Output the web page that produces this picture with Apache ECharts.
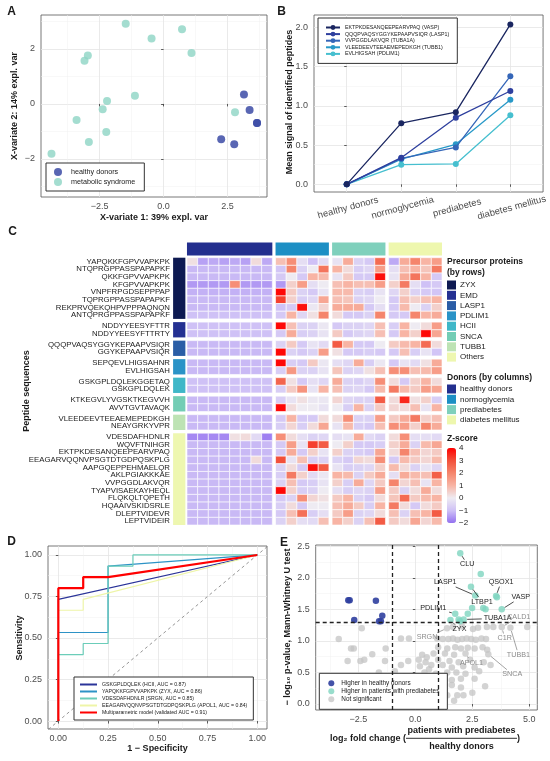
<!DOCTYPE html>
<html>
<head>
<meta charset="utf-8">
<script src="https://cdn.jsdelivr.net/npm/echarts@6/dist/echarts.min.js"></script>
<style>
html, body { margin: 0; padding: 0; background: #fff; }
#chart { width: 550px; height: 761px; }
</style>
</head>
<body>
<div id="chart"></div>
<script>
// ---------- panel A: PLS-DA scores ----------
const plsHealthy = [[3.14, 0.34], [3.36, -0.22], [3.65, -0.69], [3.65, -0.69], [2.25, -1.28], [2.76, -1.46]];
const plsMetabolic = [[-1.48, 2.91], [0.72, 2.71], [-0.47, 2.38], [-2.96, 1.76], [-3.09, 1.57], [1.09, 1.85],
    [-2.21, 0.11], [-1.12, 0.30], [-2.38, -0.19], [-3.40, -0.58], [2.79, -0.30], [-2.24, -1.02],
    [-2.92, -1.38], [-4.38, -1.81]];

// ---------- panel B: mean signal by stage ----------
const stages = ['healthy donors', 'normoglycemia', 'prediabetes', 'diabetes mellitus'];
const trendPeptides = ['EKTPKDESANQEEPEARVPAQ (VASP)', 'QQQPVAQSYGGYKEPAAPVSIQR (LASP1)', 'VVPGGDLAKVQR (TUBA1A)',
    'VLEEDEEVTEEAEMEPEDKGH (TUBB1)', 'EVLHIGSAH (PDLIM1)'];
const trendSignal = [
    [0, 0.78, 0.92, 2.04],
    [0, 0.34, 0.85, 1.19],
    [0, 0.33, 0.47, 1.38],
    [0, 0.32, 0.51, 1.08],
    [0, 0.25, 0.26, 0.88]
];

// ---------- panel C: heatmap ----------
const rowLabels = ['YAPQKKFGPVVAPKPK', 'NTQPRGPPASSPAPAPKF', 'QKKFGPVVAPKPK', 'KFGPVVAPKPK', 'VNPFRPGDSEPPPAP',
    'TQPRGPPASSPAPAPKF', 'REKPRVQEKQHPVPPPAQNQN', 'ANTQPRGPPASSPAPAPKF',
    'NDDYYEESYFTTR', 'NDDYYEESYFTTRTY',
    'QQQPVAQSYGGYKEPAAPVSIQR', 'GGYKEPAAPVSIQR',
    'SEPQEVLHIGSAHNR', 'EVLHIGSAH',
    'GSKGPLDQLEKGGETAQ', 'GSKGPLDQLEK',
    'KTKEGVLYVGSKTKEGVVH', 'AVVTGVTAVAQK',
    'VLEEDEEVTEEAEMEPEDKGH', 'NEAYGRKYVPR',
    'VDESDAFHDNLR', 'WQVFTNIHGR', 'EKTPKDESANQEEPEARVPAQ', 'EEAGARVQQNVPSGTDTGDPQSKPLG', 'AAPGQEPPEHMAELQR',
    'AKLPGIAKKKAE', 'VVPGGDLAKVQR', 'TYAPVISAEKAYHEQL', 'FLQKQLTQPETH', 'HQAAIVSKIDSRLE', 'DLEPTVIDEVR', 'LEPTVIDEIR'];
const proteinNames = ['ZYX', 'EMD', 'LASP1', 'PDLIM1', 'HCII', 'SNCA', 'TUBB1', 'Others'];
const proteinRowCounts = [8, 2, 2, 2, 2, 2, 2, 12];
const donorGroups = ['healthy donors', 'normoglycemia', 'prediabetes', 'diabetes mellitus'];
const donorColCounts = [8, 5, 5, 5];
const zScores = [
    [0.2, -1.4, -1.3, -1.4, -1.3, -1.4, 0.3, -1.3, 0.8, 1.8, -0.3, -1.0, -0.4, -0.2, 1.2, -0.6, -0.8, 2.5, -1.3, 1.2, 2.0, 1.0, 1.5],
    [-1.1, -1.1, -1.1, -1.1, -1.1, -1.1, -1.1, -1.1, -0.9, 2.0, -0.6, 0.0, 2.3, 1.0, 0.3, -0.7, -0.5, 1.5, -0.3, 0.8, 1.0, 0.7, 2.2],
    [-1.1, -1.1, -1.1, -1.1, -1.1, -1.1, -1.1, -1.1, -0.8, 0.0, -0.8, 1.0, 0.9, -0.2, 0.6, -0.8, -0.8, 3.8, -0.2, 1.2, 2.3, 1.0, -0.8],
    [-1.5, -1.5, -1.5, -1.5, 1.8, -1.5, -1.5, -1.5, -1.5, 0.5, 1.5, -0.3, 0.0, 0.8, 1.0, 0.8, 0.8, 1.5, 0.5, 2.2, -0.3, -1.0, -0.8],
    [-1.2, -1.2, -1.2, -1.2, -1.2, -1.2, -1.2, -1.2, 3.9, 0.6, -0.6, -0.8, -0.2, 0.9, 0.9, -0.6, -0.7, -0.2, -0.5, 0.5, -0.6, -0.8, -0.9],
    [-1.1, -1.1, -1.1, -1.1, -1.1, -1.1, -1.1, -1.1, 3.2, 0.5, -0.7, -0.5, 1.3, 0.8, 0.7, -0.6, -0.5, 0.0, -0.8, 0.8, 0.5, 0.8, 1.0],
    [-1.1, -1.1, -1.1, -1.1, -1.1, -1.1, -1.1, -1.1, -1.0, -0.8, 3.8, -0.1, 0.4, 1.2, 1.2, 1.2, -0.8, -0.3, -0.8, 0.9, 0.0, -0.6, 0.5],
    [-1.0, -1.0, -1.0, -1.0, -1.0, -1.0, -1.0, -1.0, -0.8, 1.0, -0.5, 0.2, 2.0, 0.3, -0.8, -0.8, -0.6, 2.0, -0.8, -0.8, 2.0, 1.0, 1.2],
    [-1.0, -1.0, -1.0, -1.0, -1.0, -1.0, -1.0, -1.0, 3.9, 0.8, -0.6, -0.6, -0.1, -0.8, -0.6, -0.6, -0.5, 0.8, -0.7, 1.0, 0.0, 0.3, 1.5],
    [-1.0, -1.0, -1.0, -1.0, -1.0, -1.0, -1.0, -1.0, -0.8, 1.2, -0.7, -0.6, -0.2, 0.6, -0.8, -0.6, -0.5, 0.8, -0.8, 1.0, 0.5, 3.9, 1.3],
    [-1.1, -1.1, -1.1, -1.1, -1.1, -1.1, -1.1, -1.1, -0.6, 0.6, -0.8, -0.2, -0.4, 2.8, 1.0, -0.8, -0.8, 0.0, 0.6, 0.9, 1.0, 2.5, 0.3],
    [-1.1, -1.1, -1.1, -1.1, -1.1, -1.1, -1.1, -1.1, 3.9, -0.6, -0.8, -0.6, 1.5, 0.2, -0.8, -0.8, -0.7, -0.8, -0.8, 0.8, -0.7, -0.2, -0.9],
    [-1.1, -1.1, -1.1, -1.1, -1.1, -1.1, -1.1, -1.1, 3.9, -0.7, -0.8, 0.6, -0.1, -0.3, -0.5, 1.2, -0.7, -0.1, -0.8, -0.2, -0.4, 0.2, 1.2],
    [-1.1, -1.1, -1.1, -1.1, -1.1, -1.1, -1.1, -1.1, -0.7, 1.6, -0.6, -0.6, -0.2, 0.7, -0.6, -0.5, 0.2, 0.8, 1.8, 1.8, 0.8, 0.9, 1.5],
    [-1.0, -1.0, -1.0, -1.0, -1.0, -1.0, -1.0, -1.0, 2.6, 0.2, -0.8, -0.3, -0.5, 1.2, -0.6, -0.7, -0.5, 1.8, 0.3, -0.8, 0.5, 1.0, 0.3],
    [-1.0, -1.0, -1.0, -1.0, -1.0, -1.0, -1.0, -1.0, -0.7, 0.6, 1.7, -0.2, 1.0, 0.8, -0.6, -0.5, -0.8, 0.9, 2.2, 0.9, 0.6, 1.5, 1.3],
    [-1.1, -1.1, -1.1, -1.1, -1.1, -1.1, -1.1, -1.1, -0.7, -0.2, 0.2, -0.1, -0.1, 0.4, -0.5, -0.6, -0.6, 2.8, 0.3, 3.5, 0.2, 0.5, -0.7],
    [-1.1, -1.1, -1.1, -1.1, -1.1, -1.1, -1.1, -1.1, 3.9, 0.3, 0.0, 0.0, -0.2, 0.0, -0.7, 1.0, -0.6, 0.6, 0.4, 0.3, 0.8, -0.2, 1.0],
    [-1.1, -1.1, -1.1, -1.1, -1.1, -1.1, -1.1, -1.1, -0.8, 1.0, -0.8, -0.8, 0.3, 0.3, 1.8, -0.6, -0.6, 1.5, 0.6, 1.2, 2.2, 0.5, 0.8],
    [-1.1, -1.1, -1.1, -1.1, -1.1, -1.1, -1.1, -1.1, -0.7, 0.4, -0.7, 0.3, 1.3, -0.2, 0.9, -0.7, -0.8, 0.8, 1.8, 1.5, 0.5, 2.0, 1.2],
    [-1.7, -1.7, -1.7, -1.7, 0.2, 0.3, -0.4, -1.8, 1.8, 0.3, -0.3, -0.6, -0.5, -0.3, -0.2, 1.2, -0.4, -0.6, 0.3, 1.8, -0.3, -0.3, -0.4],
    [-1.1, -1.1, -1.1, -1.1, -1.1, -1.1, -1.1, -1.1, -0.8, 1.5, -0.2, 3.2, 2.8, 0.0, 0.5, -0.8, -0.8, -0.7, 0.5, 1.2, -0.6, 0.9, 1.3],
    [-1.1, -1.1, -1.1, -1.1, -1.1, -1.1, -1.1, -1.1, -0.8, 1.2, -0.8, 0.5, -0.2, 0.5, -0.6, -0.7, -0.8, 1.3, 0.3, 2.0, 0.8, 0.4, 0.6],
    [-1.1, -1.1, -1.1, -1.1, -1.1, -1.1, 0.3, -1.1, 3.0, -0.2, 0.8, -0.7, -0.6, -0.6, -0.8, 0.4, 0.3, 1.8, -0.8, 0.9, 0.6, 0.4, 0.9],
    [-1.1, -1.1, -1.1, -1.1, -1.1, -1.1, -1.1, -1.1, -0.6, 0.3, -0.8, 3.8, 2.8, -0.2, -0.7, -0.6, -0.5, 0.5, 0.9, 0.3, -0.6, -0.2, -0.5],
    [-1.1, -1.1, -1.1, -1.1, -1.1, -1.1, -1.1, -1.1, -0.7, 2.2, 0.5, -0.4, -0.1, 1.0, 0.9, -0.6, 0.6, 1.2, -0.3, 1.2, 0.9, 0.8, 2.7],
    [-1.1, -1.1, -1.1, -1.1, -1.1, -1.1, -1.1, -1.1, -0.6, 0.8, -0.8, -0.7, -0.2, 0.5, -0.7, 1.2, -0.5, 0.6, 2.0, 0.4, 0.8, -0.2, 1.0],
    [-1.1, -1.1, -1.1, -1.1, -1.1, -1.1, -1.1, -1.1, 3.9, 0.5, -0.7, -0.6, 0.0, -0.3, -0.7, -0.5, -0.6, 1.5, 0.6, -0.6, 0.3, 1.2, 0.3],
    [-1.1, -1.1, -1.1, -1.1, -1.1, -1.1, -1.1, -1.1, -0.8, -0.6, 1.8, 0.4, 0.2, 0.6, 1.0, -0.6, -0.8, 0.3, 0.7, 2.5, 0.6, 0.9, 1.0],
    [-1.1, -1.1, -1.1, -1.1, -1.1, -1.1, -1.1, -1.1, -0.7, 0.3, -0.8, 0.0, 0.0, 0.8, 1.2, 0.6, -0.7, 1.0, 2.2, 0.3, -0.8, 0.3, 0.6],
    [-1.1, -1.1, -1.1, -1.1, -1.1, -1.1, -1.1, -1.1, -0.8, 0.8, 2.4, -0.7, -0.3, 0.6, 1.5, -0.6, -0.5, 0.3, 0.8, -0.6, 0.8, 1.0, 2.8],
    [-1.1, -1.1, -1.1, -1.1, -1.1, -1.1, -1.1, -1.1, -0.6, 0.5, -0.3, -0.4, 0.8, 1.0, 0.5, -0.6, 0.8, 2.8, 0.6, 0.3, 1.3, 0.4, 0.9]
];
const zTicks = [-2, -1, 0, 1, 2, 3, 4];

// ---------- panel D: ROC curves ----------
const rocNames = ['GSKGPLDQLEK (HCII, AUC = 0.87)', 'YAPQKKFGPVVAPKPK (ZYX, AUC = 0.86)', 'VDESDAFHDNLR (SRGN, AUC = 0.85)',
    'EEAGARVQQNVPSGTDTGDPQSKPLG (APOL1, AUC = 0.84)', 'Multiparametric model (validated AUC = 0.91)'];
const rocCurves = [
    [[0, 0], [0, 0.733], [1, 1]],
    [[0, 0], [0, 0.533], [0.25, 0.533], [0.25, 0.933], [1, 1]],
    [[0, 0], [0, 0.4], [0.125, 0.4], [0.125, 0.467], [0.25, 0.467], [0.25, 0.933], [0.375, 0.933], [0.375, 1], [1, 1]],
    [[0, 0], [0, 0.667], [0.125, 0.667], [0.125, 0.733], [1, 1]],
    [[0, 0], [0, 0.8], [0.125, 0.8], [0.125, 0.867], [0.25, 0.867], [1, 1]]
];
const rocChance = [[-0.05, -0.05], [1.05, 1.05]];

// ---------- panel E: volcano ----------
const volcanoHealthy = [[-2.94, 1.645], [-2.88, 1.645], [-1.73, 1.635], [-2.68, 1.33], [-1.45, 1.40], [-1.51, 1.31], [-1.59, 1.31]];
const volcanoPrediab = [[1.97, 2.39], [2.87, 2.06], [2.44, 1.86], [2.63, 1.72], [3.54, 1.71], [3.58, 1.69], [3.79, 1.50],
    [2.49, 1.52], [2.98, 1.52], [3.08, 1.50], [2.30, 1.43], [1.75, 1.43], [1.54, 1.33], [1.90, 1.34], [2.12, 1.34], [1.96, 1.31]];
const volcanoNs = [[-3.36, 1.03], [-2.35, 1.20], [-2.82, 0.88], [-2.70, 0.88], [-1.89, 0.79], [-2.97, 0.68], [-2.41, 0.68],
    [-2.24, 0.70], [-1.33, 0.68], [-1.30, 0.88], [-0.63, 1.04], [-0.28, 1.04], [-0.63, 0.62], [-0.31, 0.68], [-1.6, 0.5],
    [-0.9, 0.52], [-1.15, 0.42], [-0.5, 0.44], [0.15, 0.70], [0.3, 0.78], [0.2, 0.6], [0.45, 0.66], [0.5, 0.74], [0.6, 0.55],
    [0.7, 0.62], [0.8, 0.80], [0.9, 0.48], [1.0, 0.70], [0.96, 1.04], [1.2, 1.03], [1.39, 1.20], [1.45, 1.03], [1.65, 1.04],
    [1.85, 1.02], [2.05, 1.03], [2.25, 1.04], [2.45, 1.03], [2.65, 1.02], [2.9, 1.04], [3.1, 1.03], [1.0, 0.90], [1.4, 0.88],
    [1.75, 0.90], [2.0, 0.88], [2.3, 0.89], [2.6, 0.88], [2.95, 0.90], [3.15, 0.86], [1.3, 0.80], [1.7, 0.78], [2.2, 0.80],
    [3.2, 0.79], [1.2, 0.62], [1.5, 0.68], [1.6, 0.58], [1.9, 0.66], [2.1, 0.60], [2.4, 0.70], [2.6, 0.58], [3.0, 0.66],
    [3.3, 0.62], [0.4, 0.50], [1.4, 0.50], [1.8, 0.50], [2.2, 0.48], [2.8, 0.52], [0.3, 0.40], [0.7, 0.40], [1.1, 0.42],
    [1.6, 0.38], [2.0, 0.40], [2.6, 0.40], [0.5, 0.30], [1.0, 0.28], [1.6, 0.30], [2.0, 0.26], [3.06, 0.28], [1.4, 0.14],
    [1.84, 0.14], [2.11, 0.14], [2.5, 0.18], [1.7, 0.05], [2.53, 1.19], [2.75, 1.21], [3.14, 1.22], [3.42, 1.22], [3.79, 1.22],
    [4.17, 1.21], [4.91, 1.22], [1.65, 1.22], [2.05, 1.23]];
const geneLabels = [
    {gene: 'CLU', at: [1.97, 2.39], sig: true},
    {gene: 'LASP1', at: [2.63, 1.72], sig: true},
    {gene: 'QSOX1', at: [3.54, 1.71], sig: true},
    {gene: 'VASP', at: [3.79, 1.50], sig: true},
    {gene: 'LTBP1', at: [2.44, 1.86], sig: true},
    {gene: 'PDLIM1', at: [1.75, 1.43], sig: true},
    {gene: 'TUBA1A', at: [2.12, 1.34], sig: true},
    {gene: 'ZYX', at: [1.54, 1.33], sig: true},
    {gene: 'CALD1', at: [3.79, 1.22], sig: false},
    {gene: 'SRGN', at: [1.39, 1.20], sig: false},
    {gene: 'C1R', at: [3.79, 1.22], sig: false},
    {gene: 'TUBB1', at: [4.17, 1.21], sig: false},
    {gene: 'APOL1', at: [2.2, 0.80], sig: false},
    {gene: 'SNCA', at: [3.2, 0.79], sig: false}
];

// ---------- styling ----------
const FONT = '"Liberation Sans", Arial, sans-serif';
const INK = '#1a1a1a';
const proteinColors = ['#0E1A52', '#243092', '#2A5DA6', '#2A93C7', '#3FB7C8', '#73CDB5', '#BDE3B4', '#EEF7B0'];
const donorColors = ['#232F8E', '#1D8FC4', '#7FD0BC', '#EEF7AE'];
const trendColors = ['#1A2660', '#2E3F9E', '#3566B8', '#2899C8', '#46BFCF'];
const rocColors = ['#2B3499', '#2D93C6', '#6BCDB9', '#EEF5A8', '#FF0000'];
const labelNudge = {
    CLU: [7, 11], LASP1: [-30, -13], QSOX1: [5, -14], VASP: [19, -12], LTBP1: [11, 15], PDLIM1: [-22, -6],
    TUBA1A: [34, -1], ZYX: [9, 9], CALD1: [17, -10], SRGN: [-20, 9], C1R: [3, 11], TUBB1: [8, 27],
    APOL1: [6, 9], SNCA: [24, 20]
};

const minus = v => String(v).replace('-', '\u2212');

// heatmap layout: gaps between groups in cell units
const COL_GAP = 0.3, ROW_GAP = 0.42;
const colPos = [], colStarts = [];
let acc = 0;
donorColCounts.forEach((n, g) => {
    colStarts.push(acc + g * COL_GAP);
    for (let k = 0; k < n; k++) colPos.push(acc + g * COL_GAP + k);
    acc += n;
});
const rowPos = [], rowStarts = [];
acc = 0;
proteinRowCounts.forEach((n, g) => {
    rowStarts.push(acc + g * ROW_GAP);
    for (let k = 0; k < n; k++) rowPos.push(acc + g * ROW_GAP + k);
    acc += n;
});
const heatCells = [];
zScores.forEach((row, i) => row.forEach((z, j) => heatCells.push([colPos[j], rowPos[i], z])));

// ---------- axes ----------
const xAxes = [], yAxes = [];
const tickFont = {fontFamily: FONT, fontSize: 9, color: '#4D4D4D'};
function valueAxes(list, grid, dim, min, max, majors, minors, fmt, extra) {
    const main = Object.assign({
        type: 'value', gridIndex: grid, min: min, max: max,
        axisLine: {show: false},
        axisTick: {show: true, length: 2.5, lineStyle: {color: '#333', width: 0.8}, customValues: majors},
        axisLabel: Object.assign({customValues: majors, formatter: fmt, margin: dim === 'x' ? 5 : 6}, tickFont),
        splitLine: {show: true, lineStyle: {color: '#E4E4E4', width: 0.8}}
    }, extra || {});
    list.push(main);
    const idx = list.length - 1;
    if (minors) {
        list.push({
            type: 'value', gridIndex: grid, min: min, max: max, position: dim === 'x' ? 'top' : 'right',
            axisLine: {show: false}, axisTick: {show: false, customValues: minors},
            axisLabel: {show: false, customValues: minors},
            splitLine: {show: true, lineStyle: {color: '#F1F1F1', width: 0.5}}
        });
    }
    return idx;
}
const f1 = v => minus(v.toFixed(1));
const f2 = v => minus(v.toFixed(2));

const gridBox = {show: true, borderColor: '#555', borderWidth: 0.8, backgroundColor: '#fff'};
const grids = [
    Object.assign({left: 41, top: 15, width: 226, height: 182}, gridBox),      // A
    Object.assign({left: 314, top: 15, width: 230, height: 177}, gridBox),     // B
    {left: 173.1, top: 242.4, width: 268.9, height: 282.6},                   // C heatmap
    {left: 447, top: 448, width: 9, height: 75},                              // C colour bar
    Object.assign({left: 48, top: 546, width: 219, height: 183}, gridBox),     // D
    Object.assign({left: 315.7, top: 545, width: 221.6, height: 165}, gridBox) // E
];

const axA = {
    x: valueAxes(xAxes, 0, 'x', -4.79, 4.04, [-2.5, 0, 2.5], [-3.75, -1.25, 1.25, 3.75], f1),
    y: valueAxes(yAxes, 0, 'y', -3.38, 3.23, [-2, 0, 2], [-3, -1, 1, 3], v => minus(v))
};
const axB = {
    x: valueAxes(xAxes, 1, 'x', -0.6, 3.6, [0, 1, 2, 3], null, v => stages[v], {
        axisLabel: {customValues: [0, 1, 2, 3], formatter: v => stages[v], rotate: 15, align: 'center',
            verticalAlign: 'top', margin: 11, fontFamily: FONT, fontSize: 9.5, color: '#4D4D4D'}
    }),
    y: valueAxes(yAxes, 1, 'y', -0.098, 2.16, [0, 0.5, 1, 1.5, 2], [0.25, 0.75, 1.25, 1.75], f1)
};
xAxes.push({type: 'value', gridIndex: 2, min: -1.3, max: 23.9, show: false});
const axCx = xAxes.length - 1;
yAxes.push({type: 'value', gridIndex: 2, min: -2.0, max: 34.94, inverse: true, show: false});
const axCy = yAxes.length - 1;
xAxes.push({type: 'value', gridIndex: 3, min: 0, max: 1, show: false});
yAxes.push({
    type: 'value', gridIndex: 3, min: -2, max: 4, position: 'right',
    axisLine: {show: false}, axisTick: {show: false, customValues: zTicks}, splitLine: {show: false},
    axisLabel: {customValues: zTicks, formatter: v => minus(v), margin: 3, fontFamily: FONT, fontSize: 8, color: INK}
});
const axD = {
    x: valueAxes(xAxes, 4, 'x', -0.052, 1.049, [0, 0.25, 0.5, 0.75, 1], [0.125, 0.375, 0.625, 0.875], f2),
    y: valueAxes(yAxes, 4, 'y', -0.048, 1.054, [0, 0.25, 0.5, 0.75, 1], [0.125, 0.375, 0.625, 0.875], f2)
};
const axE = {
    x: valueAxes(xAxes, 5, 'x', -4.37, 5.35, [-2.5, 0, 2.5, 5], [-3.75, -1.25, 1.25, 3.75], f1),
    y: valueAxes(yAxes, 5, 'y', -0.095, 2.52, [0, 0.5, 1, 1.5, 2, 2.5], [0.25, 0.75, 1.25, 1.75, 2.25], f1)
};

// ---------- series ----------
const series = [];
// A
series.push({name: 'healthy donors', type: 'scatter', xAxisIndex: axA.x, yAxisIndex: axA.y, data: plsHealthy,
    symbolSize: 8, itemStyle: {color: '#3C4BA6', opacity: 0.85}});
series.push({name: 'metabolic syndrome', type: 'scatter', xAxisIndex: axA.x, yAxisIndex: axA.y, data: plsMetabolic,
    symbolSize: 8, itemStyle: {color: '#8DD5C4'}});
// B
trendPeptides.forEach((name, i) => {
    series.push({name: name, type: 'line', xAxisIndex: axB.x, yAxisIndex: axB.y,
        data: trendSignal[i].map((v, j) => [j, v]), symbol: 'circle', symbolSize: 6,
        lineStyle: {width: 1.3, color: trendColors[i]}, itemStyle: {color: trendColors[i]}, z: 10 - i});
});
// C heatmap cells
const heatSeriesIndex = series.length;
series.push({
    type: 'custom', xAxisIndex: axCx, yAxisIndex: axCy, data: heatCells, clip: false,
    encode: {x: 0, y: 1},
    renderItem: function (params, api) {
        const p0 = api.coord([api.value(0), api.value(1)]);
        const p1 = api.coord([api.value(0) + 1, api.value(1) + 1]);
        return {type: 'rect', shape: {x: p0[0], y: p0[1], width: p1[0] - p0[0], height: p1[1] - p0[1]},
            style: {fill: api.visual('color'), stroke: '#fff', lineWidth: 0.6}};
    }
});
// C row annotation strip
series.push({
    type: 'custom', xAxisIndex: axCx, yAxisIndex: axCy, clip: false,
    data: proteinRowCounts.map((n, g) => [-1.3, rowStarts[g], rowStarts[g] + n, g]),
    encode: {x: 0, y: 1},
    renderItem: function (params, api) {
        const p0 = api.coord([-1.3, api.value(1)]);
        const p1 = api.coord([-0.15, api.value(2)]);
        return {type: 'rect', shape: {x: p0[0], y: p0[1], width: p1[0] - p0[0], height: p1[1] - p0[1]},
            style: {fill: proteinColors[api.value(3)]}};
    }
});
// C column annotation strip
series.push({
    type: 'custom', xAxisIndex: axCx, yAxisIndex: axCy, clip: false,
    data: donorColCounts.map((n, g) => [colStarts[g], -2.0, colStarts[g] + n, g]),
    encode: {x: 0, y: 1},
    renderItem: function (params, api) {
        const p0 = api.coord([api.value(0), -2.0]);
        const p1 = api.coord([api.value(2), -0.3]);
        return {type: 'rect', shape: {x: p0[0], y: p0[1], width: p1[0] - p0[0], height: p1[1] - p0[1]},
            style: {fill: donorColors[api.value(3)]}};
    }
});
// C row labels
series.push({
    type: 'custom', xAxisIndex: axCx, yAxisIndex: axCy, clip: false,
    data: rowPos.map(p => [-1.3, p]),
    encode: {x: 0, y: 1},
    renderItem: function (params, api) {
        const p = api.coord([-1.6, api.value(1) + 0.5]);
        return {type: 'text', x: p[0], y: p[1], style: {text: rowLabels[params.dataIndex], fontFamily: FONT,
            fontSize: 7.8, fill: INK, align: 'right', verticalAlign: 'middle'}};
    }
});
// D
series.push({type: 'line', xAxisIndex: axD.x, yAxisIndex: axD.y, data: rocChance, symbol: 'none', silent: true,
    lineStyle: {color: '#8A8A8A', width: 0.9, type: [3, 3]}, z: 1});
rocNames.forEach((name, i) => {
    const last = i === rocNames.length - 1;
    series.push({name: name, type: 'line', xAxisIndex: axD.x, yAxisIndex: axD.y, data: rocCurves[i],
        symbol: 'none', lineStyle: {color: rocColors[i], width: last ? 2.2 : 1.2},
        itemStyle: {color: rocColors[i]}, z: last ? 10 : 3 + i});
});
// E
series.push({name: 'Not significant', type: 'scatter', xAxisIndex: axE.x, yAxisIndex: axE.y, data: volcanoNs,
    symbolSize: 6.5, itemStyle: {color: '#C4C4C4', opacity: 0.75},
    markLine: {silent: true, symbol: 'none', label: {show: false},
        lineStyle: {color: '#222', width: 1.3, type: [4, 3]},
        data: [{xAxis: -1}, {xAxis: 1}, {yAxis: 1.301}]}});
series.push({name: 'Higher in healthy donors', type: 'scatter', xAxisIndex: axE.x, yAxisIndex: axE.y,
    data: volcanoHealthy, symbolSize: 6.5, itemStyle: {color: '#2F3F9E', opacity: 0.9}});
series.push({name: 'Higher in patients with prediabetes', type: 'scatter', xAxisIndex: axE.x, yAxisIndex: axE.y,
    data: volcanoPrediab, symbolSize: 6.5, itemStyle: {color: '#7ED4BF'}});
series.push({
    type: 'custom', xAxisIndex: axE.x, yAxisIndex: axE.y, clip: false, z: 20,
    data: geneLabels.map(d => d.at), encode: {x: 0, y: 1},
    renderItem: function (params, api) {
        const d = geneLabels[params.dataIndex];
        const p = api.coord([api.value(0), api.value(1)]);
        const nd = labelNudge[d.gene];
        const t = [p[0] + nd[0], p[1] + nd[1]];
        const col = d.sig ? '#222' : '#8C8C8C';
        const children = [{type: 'text', x: t[0], y: t[1], style: {text: d.gene, fontFamily: FONT, fontSize: 7.2,
            fill: col, align: 'center', verticalAlign: 'middle'}}];
        const dx = p[0] - t[0], dy = p[1] - t[1];
        const hw = d.gene.length * 2.4 + 1.5, hh = 4.5;
        const s = Math.min(dx ? hw / Math.abs(dx) : Infinity, dy ? hh / Math.abs(dy) : Infinity);
        const len = Math.hypot(dx, dy);
        const end = 1 - 3.5 / len;
        if (s < 1 && end > s) {
            children.push({type: 'line', shape: {x1: t[0] + dx * s, y1: t[1] + dy * s, x2: t[0] + dx * end, y2: t[1] + dy * end},
                style: {stroke: col, lineWidth: 0.8}});
        }
        return {type: 'group', children: children};
    }
});

// ---------- legends ----------
const legendBox = {orient: 'vertical', borderColor: '#333', borderWidth: 1, backgroundColor: '#fff',
    selectedMode: false, itemGap: 2};
const legends = [
    Object.assign({}, legendBox, {left: 46, top: 163, padding: [5, 9, 5, 8], data: ['healthy donors', 'metabolic syndrome'],
        icon: 'circle', itemWidth: 8, itemHeight: 8,
        textStyle: {fontFamily: FONT, fontSize: 7.2, color: INK, padding: [0, 0, 0, 4]}}),
    Object.assign({}, legendBox, {left: 318, top: 18, padding: [7, 8, 7, 7], data: trendPeptides, itemGap: 1.6,
        itemWidth: 14, itemHeight: 6, textStyle: {fontFamily: FONT, fontSize: 5.3, color: INK}}),
    Object.assign({}, legendBox, {left: 74, top: 677, padding: [5, 6, 5, 6],
        data: rocNames.map((n, i) => ({name: n, icon: 'rect', itemStyle: {color: rocColors[i]}})),
        itemGap: 2, itemWidth: 17, itemHeight: 2, textStyle: {fontFamily: FONT, fontSize: 5.2, color: INK}}),
    Object.assign({}, legendBox, {left: 319.3, top: 673.3, padding: [7, 8, 7, 9],
        data: ['Higher in healthy donors', 'Higher in patients with prediabetes', 'Not significant'],
        icon: 'circle', itemWidth: 6, itemHeight: 6,
        textStyle: {fontFamily: FONT, fontSize: 6.4, color: INK, padding: [0, 0, 0, 2]}})
];

// ---------- free text ----------
function txt(x, y, text, o) {
    o = o || {};
    return {type: 'text', x: x, y: y, rotation: o.rot || 0, z: 100,
        style: {text: text, fontFamily: FONT, fontSize: o.size || 9, fontWeight: o.bold ? 'bold' : 'normal',
            fill: o.color || INK, align: o.align || 'center', verticalAlign: 'middle'}};
}
const graphics = [
    txt(11.7, 12, 'A', {bold: true, size: 12}),
    txt(281.7, 12, 'B', {bold: true, size: 12}),
    txt(12.7, 232, 'C', {bold: true, size: 12}),
    txt(11.7, 542, 'D', {bold: true, size: 12}),
    txt(284, 543, 'E', {bold: true, size: 12}),
    txt(154, 218, 'X-variate 1: 39% expl. var', {bold: true}),
    txt(15, 106, 'X-variate 2: 14% expl. var', {bold: true, rot: Math.PI / 2}),
    txt(290, 102, 'Mean signal of identified peptides', {bold: true, rot: Math.PI / 2}),
    txt(27, 391, 'Peptide sequences', {bold: true, rot: Math.PI / 2}),
    txt(157.5, 749, '1 \u2212 Specificity', {bold: true}),
    txt(20, 638, 'Sensitivity', {bold: true, rot: Math.PI / 2}),
    txt(288, 627, '\u2212 log\u2081\u2080 p-value, Mann-Whitney U test', {bold: true, rot: Math.PI / 2}),
    txt(406, 739, 'log\u2082 fold change (', {bold: true, align: 'right'}),
    txt(461.5, 730.5, 'patients with prediabetes', {bold: true}),
    txt(461.5, 746.5, 'healthy donors', {bold: true}),
    txt(517, 739, ')', {bold: true, align: 'left'}),
    {type: 'line', z: 100, shape: {x1: 406, y1: 738.3, x2: 517, y2: 738.3}, style: {stroke: INK, lineWidth: 0.9}},
    txt(447, 262, 'Precursor proteins', {bold: true, size: 8.5, align: 'left'}),
    txt(447, 272.5, '(by rows)', {bold: true, size: 8.5, align: 'left'}),
    txt(447, 377.5, 'Donors (by columns)', {bold: true, size: 8.5, align: 'left'}),
    txt(447, 439, 'Z-score', {bold: true, size: 8.5, align: 'left'})
];
proteinNames.forEach((n, i) => {
    graphics.push({type: 'rect', z: 100, shape: {x: 447, y: 280.5 + i * 10.3, width: 9, height: 9}, style: {fill: proteinColors[i]}});
    graphics.push(txt(460, 285 + i * 10.3, n, {size: 8, align: 'left'}));
});
donorGroups.forEach((n, i) => {
    graphics.push({type: 'rect', z: 100, shape: {x: 447, y: 384.5 + i * 10.3, width: 9, height: 9}, style: {fill: donorColors[i]}});
    graphics.push(txt(460, 389 + i * 10.3, n, {size: 8, align: 'left'}));
});

const chart = echarts.init(document.getElementById('chart'));
chart.setOption({
    animation: false,
    backgroundColor: '#fff',
    grid: grids,
    xAxis: xAxes,
    yAxis: yAxes,
    legend: legends,
    visualMap: {
        type: 'continuous', seriesIndex: heatSeriesIndex, dimension: 2, min: -2, max: 4,
        calculable: false, hoverLink: false, left: 447, top: 448, itemWidth: 9, itemHeight: 75, padding: 0,
        inRange: {color: ['#9370F0', '#CFC1F6', '#EEEBF2', '#F8B4A4', '#F5856C', '#F2503A', '#FF0000']}
    },
    series: series,
    graphic: graphics
});
</script>
</body>
</html>
